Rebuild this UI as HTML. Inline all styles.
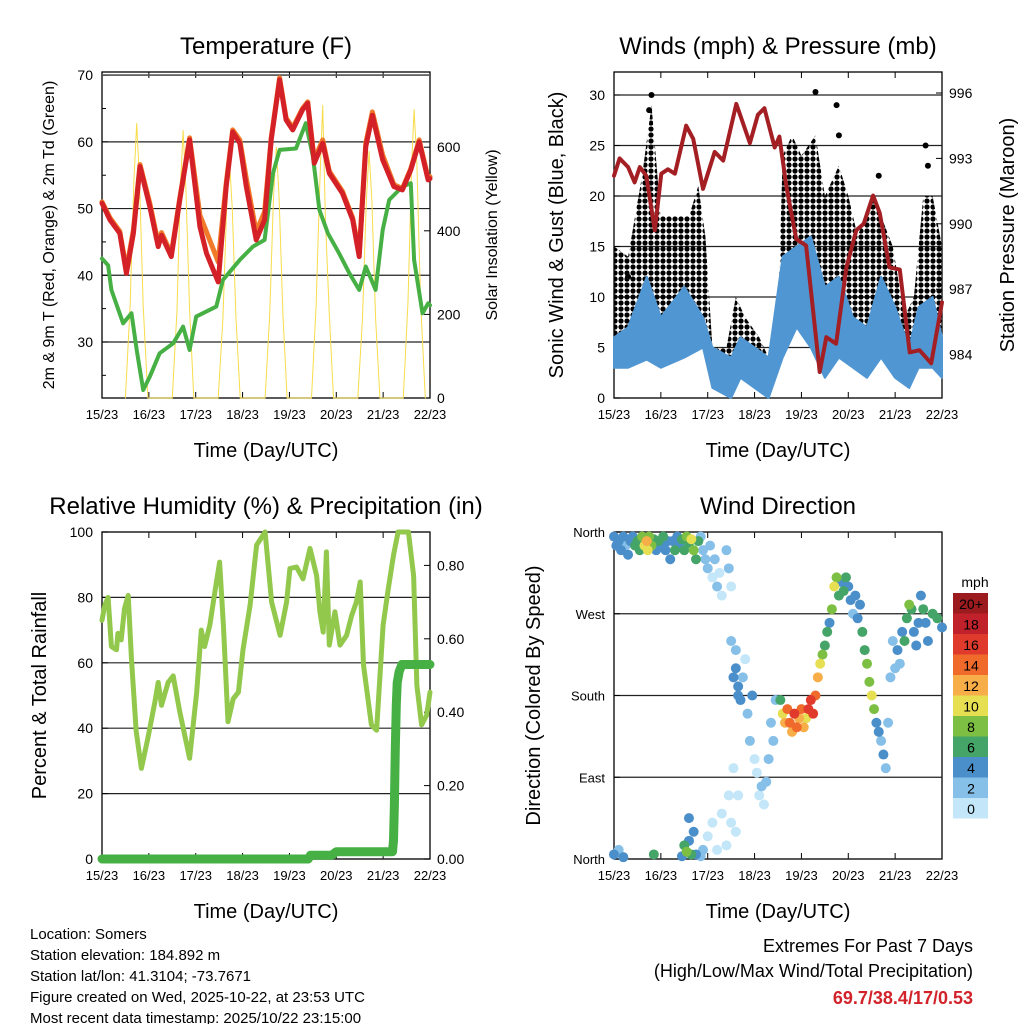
<!DOCTYPE html>
<html><head><meta charset="utf-8"><style>
body{margin:0;background:#fff}
svg{display:block;font-family:"Liberation Sans",sans-serif}
</style></head><body>
<svg id="s" width="1024" height="1024" xmlns="http://www.w3.org/2000/svg">
<defs>
<pattern id="dots" width="6" height="6" patternUnits="userSpaceOnUse">
<circle cx="3" cy="3" r="2.6" fill="#000"/>
</pattern>
</defs>
</svg>
<script>
// ---------- DATA ----------
const dayLabels=["15/23","16/23","17/23","18/23","19/23","20/23","21/23","22/23"];
// Temperature (F)
const tRedT=[0,0.17,0.38,0.52,0.67,0.81,1.02,1.2,1.27,1.48,1.66,1.87,2.09,2.23,2.48,2.65,2.79,2.94,3.08,3.29,3.47,3.61,3.79,3.93,4.07,4.28,4.39,4.53,4.71,4.85,5.13,5.35,5.49,5.63,5.77,5.99,6.23,6.41,6.59,6.77,6.96,7];
const tRedV=[50.8,48.3,46.3,40.3,46.3,56.3,50.3,44.3,46,42.8,51.3,60.3,47.3,43.3,39,53.3,61.5,59.8,53.3,45.3,48.3,60.3,69.3,63.3,61.8,64.8,65.8,56.8,59.8,55.3,52.3,48.3,42.8,59.3,64,57.3,53.3,52.8,55.8,60,54.3,54.5];
const tOrgV=[51,48.6,46.6,40.8,46.8,56.6,50.8,44.8,46.4,43.2,51.6,60.6,49,46.5,42,53.8,61.8,60.3,54.5,46.5,49.5,60.6,69.6,63.6,62.1,65,66,57.3,60.3,55.6,52.6,48.6,43.3,59.8,64.5,58,53.6,53,56,60.3,54.6,54.8];
const tDewT=[0,0.13,0.2,0.45,0.63,0.74,0.88,1.02,1.23,1.52,1.73,1.87,2.01,2.44,2.58,2.94,3.22,3.47,3.65,3.79,4.14,4.35,4.5,4.64,4.82,5.06,5.28,5.49,5.63,5.84,5.99,6.13,6.41,6.59,6.66,6.84,6.96,7];
const tDewV=[42.5,41.5,37.8,32.8,34.3,28.8,22.8,24.8,28.3,29.8,32.3,28.8,33.8,35.3,39.3,42.3,44.3,45.3,55.3,58.8,59,62.8,57.8,49.8,46.3,43.3,40.3,37.8,41.3,37.8,46.8,51.3,53.3,53.8,42.3,34.3,35.8,35.5];
const solarT=[0.5,0.6,0.68,0.74,0.8,0.88,0.98,1.5,1.6,1.67,1.73,1.79,1.87,1.96,2.48,2.58,2.66,2.72,2.78,2.86,2.95,3.48,3.58,3.66,3.72,3.78,3.86,3.95,4.47,4.57,4.65,4.71,4.77,4.85,4.94,5.46,5.56,5.64,5.7,5.76,5.84,5.93,6.43,6.53,6.61,6.66,6.72,6.8,6.9];
const solarV=[0,220,520,657,520,220,0,0,210,500,640,500,210,0,0,190,450,570,450,190,0,0,200,480,600,480,200,0,0,220,520,700,420,200,0,0,190,470,590,470,190,0,0,230,560,690,560,230,0];
// Winds (mph) & Pressure (mb)
const windT=[0,0.3,0.7,1.0,1.5,1.9,2.1,2.5,2.7,3.0,3.3,3.6,3.9,4.2,4.5,4.8,5.1,5.4,5.7,6.0,6.3,6.5,6.8,7];
const windLo=[3,3,3.8,3,4,5,1,0,2,1,0,4,7,5,2,4,3,2,4,2,1,3,3,2];
const windHi=[6,7,12,8,11,8,5,4,6,5,4,14,15,16,11,12,8,7,12,9,5,9,10,6];
const gustT=[0,0.3,0.6,0.8,1.0,1.3,1.6,1.8,1.95,2.1,2.4,2.6,2.8,3.1,3.3,3.5,3.6,3.8,4.0,4.3,4.5,4.8,5.0,5.2,5.5,5.7,5.95,6.2,6.4,6.6,6.8,7];
const gustLo=[4,6,8,10,6,6,5,6,8,3,2,3,3,2,2,3,10,10,8,12,7,7,6,4,7,5,5,3,3,7,5,4];
const gustHi=[15,14,22,29,18,18,18,21,16,5,5,10,8,6,4,8,24,26,24,26,20,23,20,16,20,18,15,8,10,20,20,15];
const gustOutT=[0.8,0.75,4.3,4.75,4.8,5.65,6.65,6.7,0.3];
const gustOutV=[30,28.5,30.3,29,26,22,25,23,12];
const presT=[0,0.12,0.3,0.44,0.55,0.69,0.87,1.01,1.15,1.3,1.54,1.69,1.9,2.15,2.33,2.61,2.9,3.07,3.21,3.43,3.53,3.68,3.89,4.1,4.39,4.53,4.74,4.96,5.17,5.33,5.53,5.67,5.88,6.1,6.31,6.52,6.77,7];
const presV=[992.2,993,992.6,991.9,992.6,992.2,989.7,992.3,992.5,992.3,994.5,993.9,991.6,993.3,992.9,995.5,993.7,995,995.3,993.5,994,991.7,989.3,989,983.2,984.8,984.5,988,989.7,990,991.3,990.5,988,987.9,984.1,984.2,983.6,986.4];
// Relative humidity & precipitation
const rhT=[0,0.06,0.13,0.2,0.31,0.34,0.41,0.48,0.56,0.63,0.73,0.84,0.98,1.13,1.2,1.27,1.41,1.52,1.66,1.87,2.02,2.12,2.19,2.3,2.41,2.51,2.59,2.69,2.8,2.91,3.01,3.16,3.3,3.48,3.62,3.8,3.94,4.01,4.15,4.29,4.44,4.58,4.65,4.72,4.79,4.85,4.97,5.08,5.22,5.33,5.43,5.51,5.58,5.75,5.86,6.0,6.11,6.22,6.32,6.54,6.65,6.72,6.82,6.93,7.0];
const rhV=[73,77.6,80,65,64,69,67,76.6,80.6,61,39,27.7,37,48,54,47,54,56,45,30.8,51,70,65,71.5,81.7,90.8,71.5,42,49,51,64,77.6,96,100,78.6,68.4,78.6,88.8,89.3,85.7,95,86.7,75.6,69.4,93.9,65.4,75.6,65.4,68.4,74.5,78.6,84.7,59.3,41,39.4,71.5,82.7,92.9,100,100,86.7,53,41,44,51];
const prT=[0,4.4,4.45,4.9,5.0,6.2,6.22,6.24,6.26,6.28,6.3,6.34,6.4,7.0];
const prV=[0,0,0.01,0.01,0.02,0.02,0.05,0.15,0.3,0.42,0.48,0.51,0.53,0.53];
// Wind direction: time(day), direction(deg), speed(mph)
const dirT=[0,0.05,0.1,0.15,0.2,0.25,0.3,0.35,0.4,0.45,0.5,0.55,0.6,0.65,0.7,0.72,0.75,0.8,0.85,0.9,0.95,1.0,1.05,1.1,1.15,1.2,1.25,1.3,1.35,1.4,1.45,1.5,1.55,1.6,1.65,1.7,1.75,1.8,1.85,1.9,1.95,2.0,2.05,2.1,2.15,2.2,2.25,2.3,2.4,2.45,2.5,
2.5,2.55,2.6,2.65,2.7,2.75,2.8,2.85,2.9,2.95,3.0,3.05,3.1,3.15,3.2,3.25,3.3,3.35,3.4,3.45,2.45,2.5,2.4,2.6,2.65,2.55,2.2,2.3,2.1,2.0,1.9,2.6,2.65,
0,0.1,0.2,0.85,1.45,1.5,1.55,1.6,1.65,1.7,1.6,1.75,1.85,
3.55,3.6,3.65,3.7,3.75,3.8,3.85,3.9,3.95,4.0,4.05,4.1,4.15,4.2,4.25,4.3,4.35,4.4,4.45,4.5,4.55,4.6,4.65,4.7,4.75,4.8,4.85,4.9,4.95,5.0,5.05,5.1,5.15,5.2,5.25,5.3,5.35,5.4,5.45,5.5,5.55,5.6,5.65,5.7,5.75,5.8,5.85,5.9,5.95,6.0,6.05,6.1,6.15,6.2,6.25,6.3,6.35,6.4,6.45,6.5,6.55,6.6,6.65,6.7,6.8,6.9,7.0];
const dirV=[355,345,350,340,355,345,335,350,355,345,350,340,355,345,350,340,355,345,352,340,350,345,355,340,350,330,350,340,355,345,352,340,355,348,352,340,330,350,355,340,330,320,345,310,330,300,315,290,340,320,300,
240,200,230,190,175,200,220,160,130,180,110,95,70,80,60,85,110,150,130,175,70,40,15,30,70,100,10,50,40,25,10,210,180,
5,10,2,5,3,15,8,20,5,30,45,5,3,
175,160,150,165,150,140,160,145,155,165,145,155,165,175,160,180,200,215,225,235,250,260,275,300,310,290,305,295,310,300,285,270,290,265,280,250,230,215,195,180,165,150,140,130,115,100,150,200,240,210,230,215,250,240,265,280,275,250,235,260,290,275,260,240,270,265,255];
const dirS=[4,4,5,4,5,3,4,5,4,6,6,7,8,10,12,11,9,8,6,5,6,4,7,4,5,4,5,6,4,5,6,7,8,7,10,8,7,6,3,2,2,2,2,1,2,2,1,1,3,2,1,
3,4,3,4,4,2,1,3,2,4,1,1,1,2,1,2,2,2,3,2,1,0,1,1,0,1,1,0,0,1,2,4,4,
4,3,4,6,4,6,8,5,7,4,4,4,2,
7,10,12,14,15,13,16,14,12,15,13,10,16,17,16,14,12,10,8,6,7,5,8,10,9,6,5,7,6,4,4,3,4,4,5,6,7,8,9,10,8,4,4,3,4,3,2,3,3,2,4,3,5,6,7,8,7,5,4,4,5,6,4,4,6,7,5];
const cbLabels=["20+","18","16","14","12","10","8","6","4","2","0"];
const cbColors=["#9b1b1e","#c0212a","#e03a2c","#ef6a2b","#f7ae48","#e6df52","#7dbf43","#45a468","#4b8fca","#86c0e8","#c3e6f8"];

// ---------- HELPERS ----------
const S=document.getElementById('s');const NS="http://www.w3.org/2000/svg";
function mk(tag,at,name,parent){const e=document.createElementNS(NS,tag);for(const k in at)e.setAttribute(k,at[k]);


(parent||S).appendChild(e);return e;}
function txt(x,y,s,str,name,opt){opt=opt||{};const e=mk('text',{x:x,y:y,'font-size':s,'text-anchor':opt.a||'middle',fill:opt.f||'#000','font-weight':opt.w||'normal'},name);
if(opt.r)e.setAttribute('transform','rotate(-90 '+x+' '+y+')');e.textContent=str;return e;}
function ln(x1,y1,x2,y2,name,w,c){return mk('line',{x1:x1,y1:y1,x2:x2,y2:y2,stroke:c||'#000','stroke-width':w||1},name);}
function poly(xs,ys,name,c,w){let d=xs.map((x,i)=>(i?'L':'M')+x.toFixed(1)+' '+ys[i].toFixed(1)).join('');
return mk('path',{d:d,fill:'none',stroke:c,'stroke-width':w,'stroke-linejoin':'round','stroke-linecap':'round'},name);}
function band(xs,lo,hi,name,c,op,stroke){let d='M'+xs.map((x,i)=>x.toFixed(1)+' '+hi[i].toFixed(1)).join('L');
for(let i=xs.length-1;i>=0;i--)d+='L'+xs[i].toFixed(1)+' '+lo[i].toFixed(1);
return mk('path',{d:d+'Z',fill:c,'fill-opacity':op||1,stroke:stroke||c,'stroke-width':2,'stroke-linejoin':'round'},name);}

function panel(L,R,T,B,title,pref){
  txt((L+R)/2,T-18,24,title,pref+'-title');
  mk('rect',{x:L,y:T,width:R-L,height:B-T,fill:'none',stroke:'#000','stroke-width':1.3},pref+'-frame');
  const sx=t=>L+(R-L)*t/7;
  dayLabels.forEach((d,i)=>{const x=sx(i);
    ln(x,B,x,B-6,pref+'-x-tick');ln(x,T,x,T+6,pref+'-x-tick-top');
    txt(x,B+21,13,d,pref+'-x-tick-label');});
  txt((L+R)/2,B+59,20,"Time (Day/UTC)",pref+'-x-axis-title');
  return sx;
}
function yAxis(L,R,vals,fy,labs,pref,side,grid,fs){
  vals.forEach((v,i)=>{const y=fy(v);
    if(grid)ln(L,y,R,y,pref+'-gridline',1.2,'#222');
    if(side==='left'){ln(L,y,L+6,y,pref+'-y-tick');txt(L-9,y+5,fs||14,labs[i],pref+'-y-tick-label',{a:'end'});}
    else{ln(R,y,R-6,y,pref+'-y2-tick');txt(R+7,y+5,fs||14,labs[i],pref+'-y2-tick-label',{a:'start'});}
  });
}

// ---------- PANEL 1: TEMPERATURE ----------
{const L=102,R=430,T=72,B=398;
 const sx=panel(L,R,T,B,"Temperature (F)","temp");
 const fy=v=>B-(v-21.6)*6.67; const fs=v=>B-v*0.418;
 yAxis(L,R,[30,40,50,60,70],fy,["30","40","50","60","70"],'temp','left',true);
 ln(L,75,R,75,'temp-top-gridline',1.5,'#555');
 yAxis(L,R,[0,200,400,600],fs,["0","200","400","600"],'solar','right',false);
 [25,35,45,55,65].forEach(v=>ln(L,fy(v),L+4,fy(v),'temp-minor-tick'));
 poly(solarT.map(sx),solarV.map(fs),'solar-insolation-line','#f7dc4a',1);
 poly(tDewT.map(sx),tDewV.map(fy),'dewpoint-line','#46b044',4);
 poly(tRedT.map(sx),tOrgV.map(fy),'temp-9m-line','#f07a2a',5);
 poly(tRedT.map(sx),tRedV.map(fy),'temp-2m-line','#d42027',5);
 txt(54,(T+B)/2,16,"2m & 9m T (Red, Orange) & 2m Td (Green)",'temp-y-axis-title',{r:1});
 txt(497,(T+B)/2,16,"Solar Insolation (Yellow)",'solar-y-axis-title',{r:1});
}
// ---------- PANEL 2: WINDS ----------
{const L=614,R=942,T=72,B=398;
 const sx=panel(L,R,T,B,"Winds (mph) & Pressure (mb)","winds");
 const fy=v=>B-v*10.1; const fp=p=>93+(996-p)*21.8;
 yAxis(L,R,[0,5,10,15,20,25,30],fy,["0","5","10","15","20","25","30"],'winds','left',true);
 yAxis(L,R,[984,987,990,993,996],fp,["984","987","990","993","996"],'pressure','right',false);
 band(gustT.map(sx),gustLo.map(fy),gustHi.map(fy),'gust-points','url(#dots)',1,'none');
 gustOutT.forEach((t,i)=>mk('circle',{cx:sx(t),cy:fy(gustOutV[i]),r:3,fill:'#000'},'gust-outlier'));
 band(windT.map(sx),windLo.map(fy),windHi.map(fy),'wind-speed-band','#5096d2',1);
 poly(presT.map(sx),presV.map(fp),'pressure-line','#a31f24',4);
 txt(563,(T+B)/2,20,"Sonic Wind & Gust (Blue, Black)",'winds-y-axis-title',{r:1});
 txt(1014,(T+B)/2,20,"Station Pressure (Maroon)",'pressure-y-axis-title',{r:1});
}
// ---------- PANEL 3: RH ----------
{const L=102,R=430,T=532,B=859;
 const sx=panel(L,R,T,B,"Relative Humidity (%) & Precipitation (in)","rh");
 const fy=v=>B-v*3.27; const fpr=p=>B-p*367;
 yAxis(L,R,[0,20,40,60,80,100],fy,["0","20","40","60","80","100"],'rh','left',true);
 yAxis(L,R,[0,0.2,0.4,0.6,0.8],fpr,["0.00","0.20","0.40","0.60","0.80"],'precip','right',false);
 poly(rhT.map(sx),rhV.map(fy),'rh-line','#92c84c',5);
 poly(prT.map(sx),prV.map(fpr),'precip-line','#46b044',9);
 txt(46,(T+B)/2,20,"Percent & Total Rainfall",'rh-y-axis-title',{r:1});
}
// ---------- PANEL 4: WIND DIRECTION ----------
{const L=614,R=942,T=532,B=859;
 const sx=panel(L,R,T,B,"Wind Direction","dir");
 const fy=d=>B-d*(B-T)/360;
 yAxis(L,R,[0,90,180,270,360],fy,["North","East","South","West","North"],'dir','left',true,13);
 const col=s=>cbColors[10-Math.min(10,Math.floor(s/2))];
 const ord=dirT.map((t,i)=>i).sort((a,b)=>dirS[a]-dirS[b]);
 ord.forEach(i=>{const c=mk('circle',{cx:sx(dirT[i]),cy:fy(dirV[i]),r:5,fill:col(dirS[i])},'wind-direction-point');});
 txt(540,(T+B)/2,20,"Direction (Colored By Speed)",'dir-y-axis-title',{r:1});
 txt(975,587,14,"mph",'colorbar-title');
 cbLabels.forEach((lab,i)=>{const y=593+i*20.5;
   mk('rect',{x:953,y:y,width:35,height:20.5,fill:cbColors[i]},'colorbar-box');
   txt(971,y+16,14,lab,'colorbar-label');});
}
// ---------- FOOTER ----------
["Location: Somers","Station elevation: 184.892 m","Station lat/lon: 41.3104; -73.7671","Figure created on Wed, 2025-10-22, at 23:53 UTC","Most recent data timestamp: 2025/10/22 23:15:00"]
 .forEach((s,i)=>txt(30,939+i*21,15,s,'station-info-line',{a:'start'}));
txt(973,952,18,"Extremes For Past 7 Days",'extremes-title',{a:'end'});
txt(973,977,18,"(High/Low/Max Wind/Total Precipitation)",'extremes-subtitle',{a:'end'});
txt(973,1004,18,"69.7/38.4/17/0.53",'extremes-values',{a:'end',f:'#d2232a',w:'bold'});
</script>
</body></html>
